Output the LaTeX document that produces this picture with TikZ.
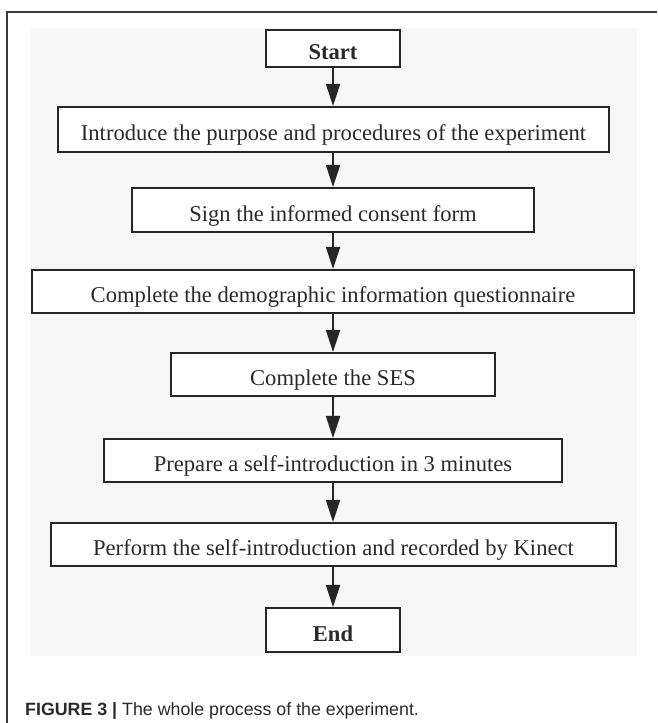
\documentclass[tikz,border=0pt]{standalone}
\usepackage{fontspec}
\setmainfont{Liberation Serif}
\newfontfamily\capfont{Liberation Sans}
\usetikzlibrary{arrows.meta}
\definecolor{panel}{HTML}{F7F7F7}
\definecolor{ink}{HTML}{262626}
\definecolor{txt}{HTML}{2A2A2A}
\definecolor{framec}{HTML}{3A3A3A}
\tikzset{
  stepbox/.style={draw=ink, line width=2.2pt, fill=white, inner sep=0pt, text=txt,
    text height=22pt, text depth=0pt,
    font=\fontsize{22.6}{27}\selectfont},
  flow/.style={draw=ink, line width=2pt, -{Triangle[width=14pt,length=22pt]}, fill=ink}
}
\begin{document}
\begin{tikzpicture}[x=1pt,y=-1pt]
\useasboundingbox (0,0) rectangle (657,723);
% frame
\draw[framec, line width=1.3pt] (657,12) -- (7,12) -- (7,723);
% panel
\fill[panel] (31,28) rectangle (637,656);
% boxes
\node[stepbox, minimum width=134pt, minimum height=37pt] (start) at (333,48.5) {\textbf{Start}};
\node[stepbox, minimum width=551pt, minimum height=45pt] (intro) at (333.5,129.5) {Introduce the purpose and procedures of the experiment};
\node[stepbox, minimum width=402pt, minimum height=44pt] (sign) at (333,210) {Sign the informed consent form};
\node[stepbox, minimum width=602pt, minimum height=43pt] (demo) at (333,291.5) {Complete the demographic information questionnaire};
\node[stepbox, minimum width=324pt, minimum height=43pt] (ses) at (333,374.5) {Complete the SES};
\node[stepbox, minimum width=458pt, minimum height=43pt] (prep) at (333,460.5) {Prepare a self-introduction in 3 minutes};
\node[stepbox, minimum width=565pt, minimum height=43pt] (perf) at (333.5,544.5) {Perform the self-introduction and recorded by Kinect};
\node[stepbox, minimum width=134pt, minimum height=44pt] (end) at (333,630) {\textbf{End}};
% arrows
\draw[flow] (start.south) -- (start.south |- intro.north);
\draw[flow] (intro.south -| start.south) -- (start.south |- sign.north);
\draw[flow] (sign.south) -- (sign.south |- demo.north);
\draw[flow] (demo.south) -- (demo.south |- ses.north);
\draw[flow] (ses.south) -- (ses.south |- prep.north);
\draw[flow] (prep.south) -- (prep.south |- perf.north);
\draw[flow] (perf.south -| prep.south) -- (prep.south |- end.north);
% caption
\node[anchor=base west, inner sep=0pt, text=txt, font=\capfont\fontsize{17.8}{21}\selectfont] (cap) at (25,715)
  {\textbf{FIGURE 3 |} The whole process of the experiment.};
\end{tikzpicture}
\end{document}
